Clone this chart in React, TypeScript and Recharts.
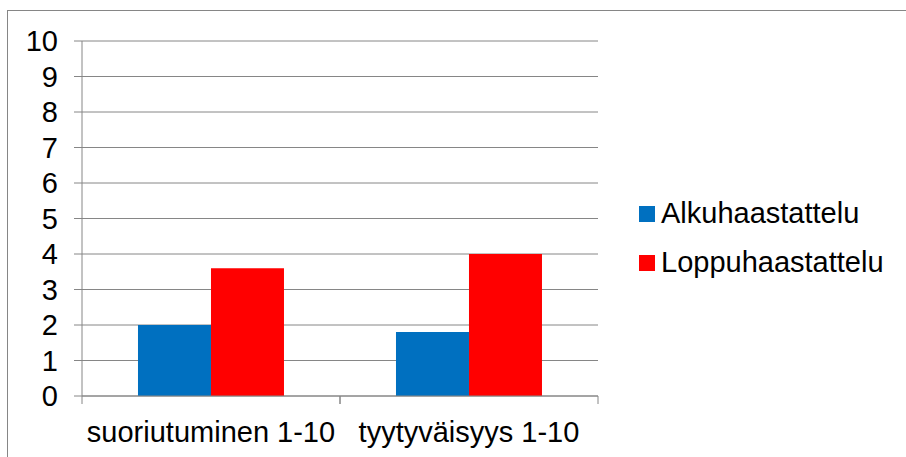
import React from 'react';
import { BarChart, Bar, XAxis, YAxis, CartesianGrid, Legend } from 'recharts';

const categories = ['suoriutuminen 1-10', 'tyytyväisyys 1-10'];
const alkuValues = [2, 1.8];
const loppuValues = [3.6, 4.0];
const yTicks = [0, 1, 2, 3, 4, 5, 6, 7, 8, 9, 10];
const seriesNames = ['Alkuhaastattelu', 'Loppuhaastattelu'];
const seriesColors = ['#0070C0', '#FF0000'];

const data = categories.map((c, i) => ({
  name: c,
  alku: alkuValues[i],
  loppu: loppuValues[i],
}));

const W = 906;
const H = 457;
const LEGEND_W = 267;
const MARGIN = { top: 41, right: 308 - LEGEND_W, bottom: 0, left: 0 };
const YAXIS_W = 82;
const PLOT_W = W - 308 - YAXIS_W;
const BAND = PLOT_W / categories.length;
const FONT = '"Liberation Sans", Arial, sans-serif';
const GRID = '#868686';

const XTick = (props: any) => {
  const { x, y, payload } = props;
  return (
    <g>
      <line x1={x - BAND / 2} x2={x - BAND / 2} y1={y - 8} y2={y} stroke={GRID} strokeWidth={1} />
      <line x1={x + BAND / 2} x2={x + BAND / 2} y1={y - 8} y2={y} stroke={GRID} strokeWidth={1} />
      <text x={x} y={y + 38} textAnchor="middle" fill="#000" fontSize={29} fontFamily={FONT}>
        {payload.value}
      </text>
    </g>
  );
};

const LegendContent = () => (
  <div style={{ fontFamily: FONT, fontSize: 29, color: '#000' }}>
    {seriesNames.map((n, i) => (
      <div key={n} style={{ display: 'flex', alignItems: 'center', height: 49 }}>
        <span style={{ display: 'inline-block', width: 16, height: 16, background: seriesColors[i], marginRight: 6 }} />
        <span style={{ lineHeight: '29px' }}>{n}</span>
      </div>
    ))}
  </div>
);

export default function App() {
  return (
    <div style={{ position: 'absolute', left: 0, top: 0, width: W, height: H, overflow: 'hidden', background: '#fff' }}>
      <div style={{ position: 'absolute', left: 7, top: 10, width: W, height: H, borderLeft: `1px solid ${GRID}`, borderTop: `1px solid ${GRID}` }} />
      <div style={{ position: 'absolute', left: 0, top: 0 }}>
        <BarChart width={W} height={H} data={data} margin={MARGIN} barCategoryGap="21.7%" barGap={0}>
          <CartesianGrid horizontal vertical={false} stroke={GRID} strokeDasharray="" />
          <XAxis
            dataKey="name"
            height={61}
            axisLine={{ stroke: GRID }}
            tickLine={false}
            tickSize={8}
            tickMargin={0}
            interval={0}
            tick={<XTick />}
          />
          <YAxis
            width={YAXIS_W}
            domain={[0, 10]}
            ticks={yTicks}
            interval={0}
            axisLine={{ stroke: GRID }}
            tickLine={{ stroke: GRID }}
            tickSize={8}
            tickMargin={16}
            tick={{ fill: '#000', fontSize: 29, fontFamily: FONT }}
          />
          <Legend
            layout="vertical"
            align="right"
            verticalAlign="middle"
            content={<LegendContent />}
            wrapperStyle={{ left: 639, right: 'auto', top: 189, width: LEGEND_W }}
          />
          <Bar dataKey="alku" name={seriesNames[0]} fill={seriesColors[0]} isAnimationActive={false} />
          <Bar dataKey="loppu" name={seriesNames[1]} fill={seriesColors[1]} isAnimationActive={false} />
        </BarChart>
      </div>
    </div>
  );
}
